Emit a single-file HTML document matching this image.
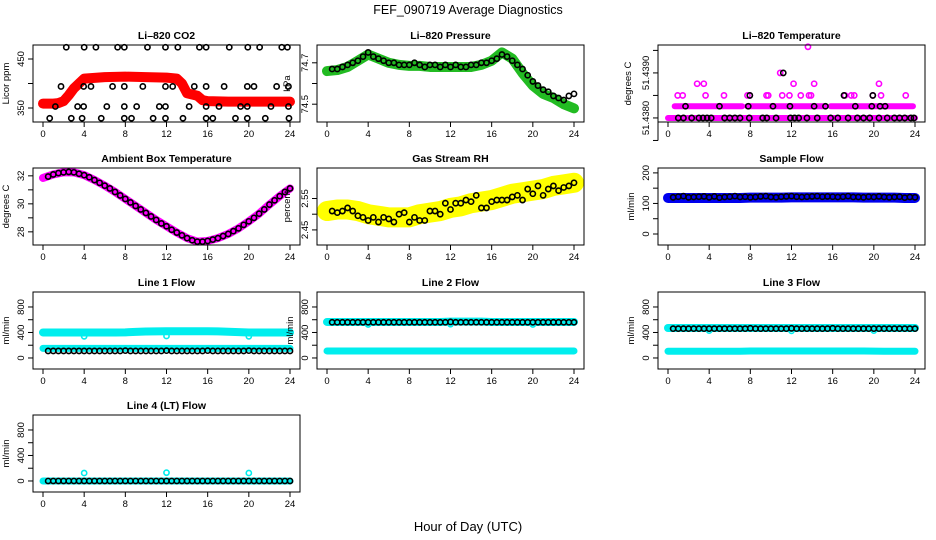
<!DOCTYPE html>
<html><head><meta charset="utf-8"><style>
html,body{margin:0;padding:0;background:#fff}
svg{display:block;font-family:"Liberation Sans",sans-serif}
</style></head><body>
<svg id="chart" width="936" height="540" viewBox="0 0 936 540" xmlns="http://www.w3.org/2000/svg">
<rect width="936" height="540" fill="#fff"/>
<text x="468" y="14" text-anchor="middle" font-size="12.5">FEF_090719  Average Diagnostics</text>
<text x="468" y="531" text-anchor="middle" font-size="13">Hour of Day (UTC)</text>
</svg>
<script>
const xTicks = [0,4,8,12,16,20,24];
const hours = [0,1,2,3,4,5,6,7,8,9,10,11,12,13,14,15,16,17,18,19,20,21,22,23,24];
const halfHours = [0.5,1,1.5,2,2.5,3,3.5,4,4.5,5,5.5,6,6.5,7,7.5,8,8.5,9,9.5,10,10.5,11,11.5,12,12.5,13,13.5,14,14.5,15,15.5,16,16.5,17,17.5,18,18.5,19,19.5,20,20.5,21,21.5,22,22.5,23,23.5,24];

// CO2
const co2BandX = [0,1,1.5,2,2.5,3,3.5,4,6,8,10,12,13,13.5,14,15,15.5,16,18,20,22,24];
const co2Band = [359,359,360,364,376,390,400,410,413,414,413,412,410,400,380,375,366,364,363,363,363,363];
const co2BlackX = [2.26,4.0,5.14,7.25,7.9,10.15,11.9,13.1,15.2,15.85,18.1,19.9,21.05,23.2,23.75,
 1.75,3.95,4.66,6.76,7.9,9.7,11.9,12.6,14.7,15.85,17.6,19.85,20.5,22.7,23.85,
 1.2,3.36,3.95,6.2,7.9,9.1,11.3,11.9,14.2,15.85,17.1,19.2,19.85,22.15,23.85,
 0.65,2.75,3.8,5.66,7.9,8.6,10.7,11.9,13.6,15.85,16.5,18.7,19.85,21.6,23.9];
const co2BlackY = [474,474,474,474,474,474,474,474,474,474,474,474,474,474,474,
 394,394,394,394,394,394,394,394,394,394,394,394,394,394,394,
 353,353,353,353,353,353,353,353,353,353,353,353,353,353,353,
 329,329,329,329,329,329,329,329,329,329,329,329,329,329,329];

// Pressure
const presBand = [74.66,74.665,74.68,74.71,74.74,74.72,74.70,74.69,74.685,74.685,74.68,74.68,74.68,74.68,74.68,74.69,74.71,74.75,74.72,74.65,74.59,74.55,74.53,74.50,74.48];
const presBlack = [74.67,74.67,74.68,74.69,74.70,74.71,74.73,74.75,74.73,74.72,74.71,74.70,74.70,74.69,74.69,74.69,74.70,74.69,74.68,74.69,74.69,74.68,74.69,74.68,74.69,74.68,74.68,74.69,74.69,74.70,74.70,74.71,74.72,74.74,74.73,74.71,74.69,74.67,74.64,74.61,74.59,74.57,74.56,74.54,74.53,74.52,74.54,74.55];

// Li-820 Temperature
const tempSegStart = [0,0.65,7.7,15.8];
const tempSegEnd = [24,7.2,15.2,23.8];
const tempSegVal = [51.4380,51.43826,51.43826,51.43826];
const tempMagX = [0.94,1.43,3.65,5.44,7.72,7.95,9.57,9.74,11.1,11.8,12.9,13.7,13.9,17.2,17.8,18.1,19.9,20.7,23.1, 2.83,3.48,12.2,14.2,20.5, 10.9, 13.6];
const tempMagY = [51.4385,51.4385,51.4385,51.4385,51.4385,51.4385,51.4385,51.4385,51.4385,51.4385,51.4385,51.4385,51.4385,51.4385,51.4385,51.4385,51.4385,51.4385,51.4385, 51.43876,51.43876,51.43876,51.43876,51.43876, 51.4390, 51.43958];
const tempBlackX = [1,1.5,2.3,3,3.4,3.8,4.2,5.5,6,6.5,7,7.9,9.2,9.6,10.5,11.9,12.3,12.7,13.5,14.5,15.8,16.5,17.5,18.4,19,19.6,20.5,21.3,22,22.5,23,23.6,23.9, 1.7,5.0,7.8,10.2,11.85,14.2,15.3,18.2,19.8,20.6,21.1, 7.95,17.1,19.9, 11.2];
const tempBlackY = [51.4380,51.4380,51.4380,51.4380,51.4380,51.4380,51.4380,51.4380,51.4380,51.4380,51.4380,51.4380,51.4380,51.4380,51.4380,51.4380,51.4380,51.4380,51.4380,51.4380,51.4380,51.4380,51.4380,51.4380,51.4380,51.4380,51.4380,51.4380,51.4380,51.4380,51.4380,51.4380,51.4380, 51.43826,51.43826,51.43826,51.43826,51.43826,51.43826,51.43826,51.43826,51.43826,51.43826,51.43826, 51.4385,51.4385,51.4385, 51.4390];

// Ambient box temperature
const ambBand = [31.85,32.1,32.25,32.25,32.05,31.7,31.3,30.85,30.35,29.85,29.35,28.85,28.4,27.95,27.55,27.3,27.35,27.55,27.85,28.25,28.75,29.3,29.95,30.55,31.1];
const ambBlack = [31.95,32.1,32.2,32.25,32.28,32.25,32.15,32.05,31.9,31.7,31.5,31.3,31.1,30.85,30.6,30.35,30.1,29.85,29.6,29.35,29.1,28.85,28.6,28.4,28.15,27.95,27.75,27.55,27.4,27.3,27.3,27.35,27.45,27.55,27.7,27.85,28.05,28.25,28.5,28.75,29.0,29.3,29.6,29.95,30.25,30.55,30.85,31.1];

// Gas stream RH
const rhBand = [2.51,2.515,2.515,2.51,2.50,2.495,2.49,2.49,2.49,2.50,2.505,2.51,2.52,2.525,2.535,2.54,2.545,2.555,2.565,2.57,2.575,2.58,2.59,2.595,2.60];
const rhBlack = [2.51,2.505,2.51,2.52,2.51,2.495,2.49,2.48,2.49,2.475,2.49,2.485,2.475,2.50,2.505,2.475,2.49,2.48,2.48,2.51,2.51,2.50,2.535,2.515,2.535,2.535,2.545,2.54,2.56,2.52,2.52,2.54,2.545,2.545,2.545,2.555,2.56,2.545,2.58,2.565,2.59,2.56,2.58,2.59,2.575,2.585,2.59,2.60];

// Sample flow
const sampleBand = [118,118,118,118,118,118,118,118,119,119,119,119,120,120,120,120,120,120,120,119,119,119,119,118,118];
const sampleBlack = [120,122,124,120,121,122,123,120,123,119,121,122,124,121,122,120,121,123,124,121,120,122,123,124,122,121,122,123,124,122,123,122,121,122,124,121,121,120,122,121,123,121,120,121,122,119,121,120];

// Line flows
const line1Upper = [400,400,400,400,400,400,400,400,402,410,415,418,420,420,420,420,420,418,412,405,400,400,400,400,400];
const line1Lower = [150,150,150,150,150,150,150,150,150,150,150,150,150,150,150,150,150,150,150,150,150,150,150,150,150];
const line1Black = [110,110,110,110,110,110,110,110,110,110,110,110,110,110,110,115,110,110,110,110,110,110,110,115,110,110,110,110,110,110,110,115,110,110,110,110,110,110,110,115,110,110,110,110,110,110,110,110];
const line2Upper = [565,565,565,565,565,565,565,565,565,565,565,565,570,570,570,570,565,565,565,565,565,565,565,565,565];
const line2Lower = [110,110,110,110,110,110,110,110,110,110,110,110,110,110,110,110,110,110,110,110,110,110,110,110,110];
const line2Black = [560,560,560,560,560,560,560,560,560,560,560,560,560,560,560,560,560,560,560,560,560,560,560,565,560,560,560,560,560,560,560,560,560,560,560,560,560,560,560,560,560,560,560,560,560,560,560,560];
const line3Upper = [470,470,470,470,470,470,470,470,470,470,470,470,470,470,470,470,470,470,470,470,470,470,470,470,470];
const line3Lower = [105,105,105,105,105,105,105,105,110,110,110,110,110,110,110,110,110,110,110,110,108,105,105,105,105];
const line3Black = [460,460,460,460,460,460,460,460,460,460,460,460,460,460,460,465,460,460,460,460,460,460,460,465,460,460,460,460,460,460,460,465,460,460,460,460,460,460,460,460,460,460,460,460,460,460,460,460];
const line4Base = [0,0,0,0,0,0,0,0,0,0,0,0,0,0,0,0,0,0,0,0,0,0,0,0,0];
const line4Black = [0,0,0,0,0,0,0,0,0,0,0,0,0,0,0,0,0,0,0,0,0,0,0,0,0,0,0,0,0,0,0,0,0,0,0,0,0,0,0,0,0,0,0,0,0,0,0,0];
const outlierX = [4,12,20];
const line1Out = [340,345,340];
const line2Out = [525,530,525];
const line3Out = [430,425,430];
const line4Out = [125,130,125];

const NS = "http://www.w3.org/2000/svg";
const svg = document.getElementById("chart");
const colL = [33,317,658];
const rowT = [45,168,292,415];
const BW = 267, BH = 77;

function mk(tag, attrs, parent){
  const e = document.createElementNS(NS, tag);
  for (const k in attrs) e.setAttribute(k, attrs[k]);
  (parent||svg).appendChild(e);
  return e;
}

function makePanel(col,row,name,title,ylab,ymin,ymax,yTicks,yLabels,ylabOff){
  const g = mk("g",{});
  
  
  const L = colL[col], T = rowT[row], B = T+BH;
  const x0 = L+10, x1 = L+BW-10;
  const sx = h => x0 + (x1-x0)*h/24;
  const sy = v => B - (v-ymin)/(ymax-ymin)*BH;
  const t = mk("text",{x:L+BW/2,y:T-6,"text-anchor":"middle","font-size":"10.5","font-weight":"bold"},g);
  t.textContent = title;
  
  
  const plot = mk("g",{},g);
  
  
  const fr = mk("rect",{x:L,y:T,width:BW,height:BH,fill:"none",stroke:"#000","stroke-width":1},g);
  
  
  const xa = mk("g",{},g);
  
  
  mk("line",{x1:sx(0),x2:sx(24),y1:B,y2:B,stroke:"#000"},xa);
  xTicks.forEach(v=>{
    mk("line",{x1:sx(v),x2:sx(v),y1:B,y2:B+5,stroke:"#000"},xa);
    const tl = mk("text",{x:sx(v),y:B+15,"text-anchor":"middle","font-size":"9.5"},xa);
    tl.textContent = v;
  });
  const ya = mk("g",{},g);
  
  
  mk("line",{x1:L,x2:L,y1:sy(yTicks[0]),y2:sy(yTicks[yTicks.length-1]),stroke:"#000"},ya);
  yTicks.forEach((v,i)=>{
    mk("line",{x1:L-5,x2:L,y1:sy(v),y2:sy(v),stroke:"#000"},ya);
    if (yLabels[i]!==""){
      const tl = mk("text",{x:0,y:0,"text-anchor":"middle","font-size":"9.5",transform:`translate(${L-9},${sy(v)}) rotate(-90)`},ya);
      tl.textContent = yLabels[i];
    }
  });
  const yt = mk("text",{x:0,y:0,"text-anchor":"middle","font-size":"9.5",transform:`translate(${L-ylabOff},${T+BH/2}) rotate(-90)`},g);
  yt.textContent = ylab;
  
  
  return {plot,sx,sy};
}

function band(p,xs,ys,color,w,nm){
  const pl = mk("polyline",{points:xs.map((x,i)=>p.sx(x)+","+p.sy(ys[i])).join(" "),fill:"none",stroke:color,"stroke-width":w,"stroke-linejoin":"round","stroke-linecap":"round"},p.plot);
  
  
}
function pts(p,xs,ys,color,nm,sw){
  const g = mk("g",{},p.plot);
  
  
  xs.forEach((x,i)=>{
    mk("circle",{cx:p.sx(x),cy:p.sy(ys[i]),r:2.6,fill:"none",stroke:color,"stroke-width":sw||1.6},g);
  });
}

let p;
p = makePanel(0,0,"co2-panel","Li\u2013820 CO2","Licor ppm",321.4,478.6,[350,400,450],["350","","450"],24);
band(p,co2BandX,co2Band,"#ff0000",10,"co2-red-series");
pts(p,co2BlackX,co2BlackY,"#000","co2-black-points");

p = makePanel(1,0,"pressure-panel","Li\u2013820 Pressure","kPa",74.414,74.786,[74.5,74.6,74.7],["74.5","","74.7"],27);
band(p,hours,presBand,"#22bb22",10,"pressure-green-series");
pts(p,halfHours,presBlack,"#000","pressure-black-points");

p = makePanel(2,0,"temperature-panel","Li\u2013820 Temperature","degrees C",51.43791,51.43962,[51.43750,51.4380,51.4385,51.4390,51.4395],["","51.4380","","51.4390",""],27);
tempSegStart.forEach((s,i)=>{
  band(p,[s,tempSegEnd[i]],[tempSegVal[i],tempSegVal[i]],"#ff00ff",6,"temperature-magenta-band-"+i);
});
pts(p,tempMagX,tempMagY,"#ff00ff","temperature-magenta-points");
pts(p,tempBlackX,tempBlackY,"#000","temperature-black-points");

p = makePanel(0,1,"ambient-temp-panel","Ambient Box Temperature","degrees C",27.06,32.56,[28,29,30,31,32],["28","","30","","32"],24);
band(p,hours,ambBand,"#ff00ff",8,"ambient-magenta-series");
pts(p,halfHours,ambBlack,"#000","ambient-black-points");

p = makePanel(1,1,"rh-panel","Gas Stream RH","percent",2.402,2.647,[2.45,2.50,2.55],["2.45","","2.55"],27);
band(p,hours,rhBand,"#ffff00",20,"rh-yellow-series");
pts(p,halfHours,rhBlack,"#000","rh-black-points");

p = makePanel(2,1,"sample-flow-panel","Sample Flow","ml/min",-36,216,[0,50,100,150,200],["0","","100","","200"],24);
band(p,hours,sampleBand,"#0000ee",10,"sample-flow-blue-series");
pts(p,halfHours,sampleBlack,"#000","sample-flow-black-points");

const fMin=-173, fMax=1035, fT=[0,200,400,600,800], fL=["0","","400","","800"];
p = makePanel(0,2,"line1-flow-panel","Line 1 Flow","ml/min",fMin,fMax,fT,fL,24);
band(p,hours,line1Upper,"#00eeee",8,"line1-upper-series");
band(p,hours,line1Lower,"#00eeee",7,"line1-lower-series");
pts(p,outlierX,line1Out,"#00eeee","line1-outliers");
pts(p,halfHours,line1Black,"#000","line1-black-points");

p = makePanel(1,2,"line2-flow-panel","Line 2 Flow","ml/min",fMin,fMax,fT,fL,24);
band(p,hours,line2Upper,"#00eeee",8,"line2-upper-series");
band(p,hours,line2Lower,"#00eeee",7,"line2-lower-series");
pts(p,outlierX,line2Out,"#00eeee","line2-outliers");
pts(p,halfHours,line2Black,"#000","line2-black-points");

p = makePanel(2,2,"line3-flow-panel","Line 3 Flow","ml/min",fMin,fMax,fT,fL,24);
band(p,hours,line3Upper,"#00eeee",8,"line3-upper-series");
band(p,hours,line3Lower,"#00eeee",7,"line3-lower-series");
pts(p,outlierX,line3Out,"#00eeee","line3-outliers");
pts(p,halfHours,line3Black,"#000","line3-black-points");

p = makePanel(0,3,"line4-flow-panel","Line 4 (LT) Flow","ml/min",fMin,fMax,fT,fL,24);
band(p,hours,line4Base,"#00eeee",7,"line4-cyan-series");
pts(p,outlierX,line4Out,"#00eeee","line4-outliers");
pts(p,halfHours,line4Black,"#000","line4-black-points");
</script>
</body></html>
